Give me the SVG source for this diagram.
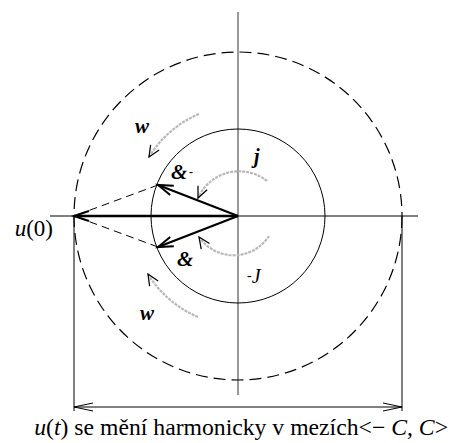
<svg xmlns="http://www.w3.org/2000/svg" width="455" height="443" viewBox="0 0 455 443">
<style>
text{font-family:"Liberation Serif","Times New Roman",serif;fill:#000}
.lbl{font-style:italic;font-weight:bold;font-size:21px}
.ax{stroke:#000;stroke-width:1.2;fill:none}
.gax{stroke:#777;stroke-width:1.5;fill:none}
.thin{stroke:#000;stroke-width:1;fill:none}
.dash{stroke:#000;stroke-width:1.2;fill:none;stroke-dasharray:12 6}
.dash2{stroke:#000;stroke-width:1;fill:none;stroke-dasharray:8 5}
.ph{stroke:#000;stroke-width:2.2;fill:none;marker-end:url(#mThick)}
.garc{stroke:#b8b8b8;stroke-width:2.2;fill:none;stroke-dasharray:3 1;marker-end:url(#mSmall)}
</style>
<defs>
<marker id="mThick" markerUnits="userSpaceOnUse" orient="auto" markerWidth="30" markerHeight="30" refX="0" refY="0" viewBox="-20 -10 30 20" overflow="visible">
<path d="M-15,-5 L0,0 L-15,5" stroke="#000" stroke-width="2" fill="none"/>
</marker>
<marker id="mThin" markerUnits="userSpaceOnUse" orient="auto-start-reverse" markerWidth="30" markerHeight="30" refX="0" refY="0" viewBox="-25 -10 30 20" overflow="visible">
<path d="M-19,-4 L0,0 L-19,4" stroke="#000" stroke-width="1" fill="none"/>
</marker>
<marker id="mSmall" markerUnits="userSpaceOnUse" orient="auto" markerWidth="20" markerHeight="20" refX="0" refY="0" viewBox="-12 -8 16 16" overflow="visible">
<path d="M-9,-4 L0,0 L-9,4" stroke="#000" stroke-width="1" fill="none"/>
</marker>
</defs>

<g id="axes">
<line class="gax" x1="238" y1="12" x2="238" y2="395"/>
<line class="ax" x1="50" y1="216" x2="418" y2="216"/>
</g>

<g id="outer-circle">
<circle class="dash" cx="238" cy="216" r="164"/>
</g>

<g id="inner-circle">
<circle class="thin" cx="238" cy="216" r="87"/>
</g>

<g id="dimension">
<line class="thin" x1="74" y1="216" x2="74" y2="411"/>
<line class="thin" x1="402" y1="216" x2="402" y2="411"/>
<line class="thin" x1="74" y1="407" x2="402" y2="407" marker-start="url(#mThin)" marker-end="url(#mThin)"/>
</g>

<g id="connectors">
<line class="dash2" x1="158" y1="185" x2="74" y2="216"/>
<line class="dash2" x1="158" y1="247" x2="74" y2="216"/>
<line class="ph" x1="238" y1="216" x2="158" y2="185"/>
<line class="ph" x1="238" y1="216" x2="158" y2="247"/>
<line class="ph" x1="238" y1="216" x2="74" y2="216" style="stroke-width:2.6"/>
<path class="garc" d="M199,114 A108,108 0 0 0 149,157"/>
<path class="garc" d="M198,317 A108,108 0 0 1 148,274"/>
<path class="garc" d="M267,181 A45,45 0 0 0 198,198"/>
<path class="garc" d="M269,236 A42,42 0 0 1 199,237"/>
</g>

<g id="labels">
<text class="lbl" x="135" y="133">w</text>
<text class="lbl" x="140" y="320">w</text>
<text x="254" y="163" style="font-style:italic;font-weight:bold;font-size:20px">j</text>
<text x="247" y="283" style="font-size:20px"><tspan style="font-size:14px" dy="-3">-</tspan><tspan style="font-style:italic" dy="3">J</tspan></text>
<text class="lbl" x="171" y="179">&amp;</text>
<text x="189" y="176" style="font-size:12px;font-weight:bold">-</text>
<text class="lbl" x="177" y="266">&amp;</text>
<text x="53" y="236" text-anchor="end" style="font-size:23px"><tspan font-style="italic">u</tspan>(0)</text>
<text x="448" y="435" text-anchor="end" style="font-size:23.7px"><tspan font-style="italic">u</tspan>(<tspan font-style="italic">t</tspan>) se mění harmonicky v mezích&lt;− <tspan font-style="italic">C</tspan>, <tspan font-style="italic">C</tspan>&gt;</text>
</g>
</svg>
